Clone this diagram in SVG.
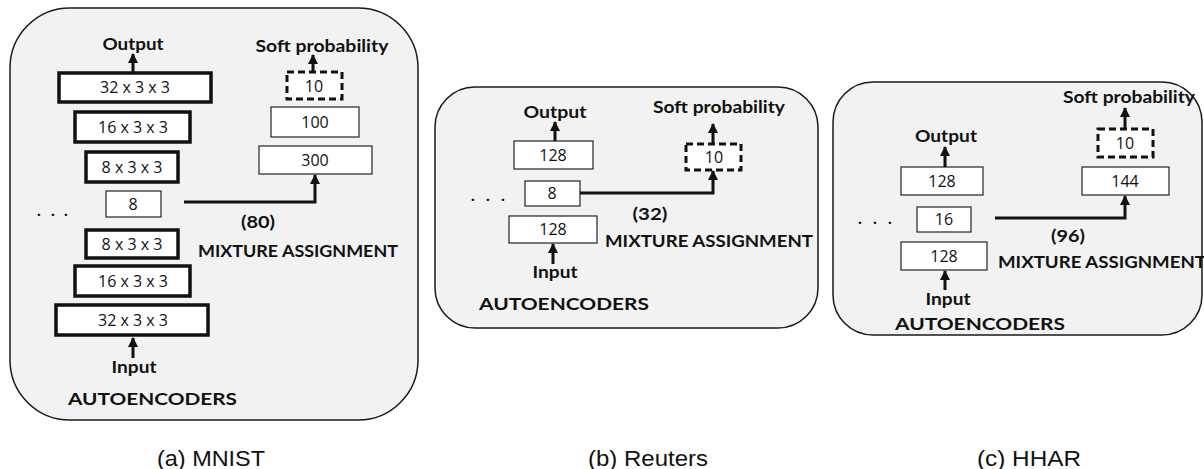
<svg xmlns="http://www.w3.org/2000/svg" width="1204" height="469" viewBox="0 0 1204 469">
<style>
.panel{fill:#f2f2f2;stroke:#1a1a1a;stroke-width:1.5}
.thick{fill:#fff;stroke:#111;stroke-width:3.5}
.thin{fill:#fff;stroke:#333;stroke-width:1.3}
.dash{fill:#fff;stroke:#111;stroke-width:3;stroke-dasharray:7,4}
.bt{font-family:"Open Sans","DejaVu Sans",sans-serif;font-size:16px;fill:#111;text-anchor:middle}
.lb{font-family:Lato,"Open Sans",sans-serif;font-weight:bold;font-size:17.5px;fill:#111}
.c{text-anchor:middle}
.cap{font-family:"Liberation Sans",Arial,sans-serif;font-size:22px;fill:#111;text-anchor:middle}
.ar{fill:none;stroke:#111;stroke-width:3;marker-end:url(#ah)}
.dots{font-family:"Open Sans",sans-serif;font-weight:bold;font-size:15px;fill:#111;text-anchor:middle}
</style>
<defs>
<marker id="ah" markerUnits="userSpaceOnUse" markerWidth="10" markerHeight="10" refX="9" refY="5" orient="auto">
<path d="M0,0 L10,5 L0,10 Z" fill="#111"/>
</marker>
</defs>

<!-- Panel a -->
<g id="panel-a">
<rect class="panel" x="10" y="8" width="408" height="412" rx="60"/>
</g>
<g id="a-out-label"><text class="lb c" x="133" y="50" textLength="61" lengthAdjust="spacingAndGlyphs">Output</text></g>
<g id="a-dec32"><rect class="thick" x="59" y="73" width="152" height="29"/><text class="bt" x="135" y="93">32 x 3 x 3</text></g>
<g id="a-dec16"><rect class="thick" x="75" y="112" width="115" height="30"/><text class="bt" x="133" y="133">16 x 3 x 3</text></g>
<g id="a-dec8"><rect class="thick" x="86" y="152" width="92" height="30"/><text class="bt" x="132" y="173">8 x 3 x 3</text></g>
<g id="a-z"><rect class="thin" x="106" y="191" width="55" height="26"/><text class="bt" x="133" y="210">8</text></g>
<g id="a-dots"><text class="dots" x="39 53 66" y="216">...</text></g>
<g id="a-enc8"><rect class="thick" x="86" y="230" width="92" height="28"/><text class="bt" x="132" y="250">8 x 3 x 3</text></g>
<g id="a-enc16"><rect class="thick" x="75" y="266" width="115" height="30"/><text class="bt" x="133" y="287">16 x 3 x 3</text></g>
<g id="a-enc32"><rect class="thick" x="56" y="305" width="152" height="30"/><text class="bt" x="133" y="326">32 x 3 x 3</text></g>
<g id="a-in-label"><text class="lb c" x="134" y="373" textLength="45" lengthAdjust="spacingAndGlyphs">Input</text></g>
<g id="a-ae-label"><text class="lb" x="68" y="405" textLength="169" lengthAdjust="spacingAndGlyphs">AUTOENCODERS</text></g>
<g id="a-soft-label"><text class="lb c" x="322" y="52" textLength="133" lengthAdjust="spacingAndGlyphs">Soft probability</text></g>
<g id="a-q"><rect class="dash" x="287" y="72" width="55" height="27"/><text class="bt" x="314" y="92">10</text></g>
<g id="a-m100"><rect class="thin" x="271" y="107" width="88" height="30"/><text class="bt" x="315" y="128">100</text></g>
<g id="a-m300"><rect class="thin" x="259" y="146" width="113" height="28"/><text class="bt" x="315" y="166">300</text></g>
<g id="a-80"><text class="lb c" x="258" y="228" textLength="34" lengthAdjust="spacingAndGlyphs">(80)</text></g>
<g id="a-mix"><text class="lb" x="198" y="257" textLength="200" lengthAdjust="spacingAndGlyphs">MIXTURE ASSIGNMENT</text></g>

<!-- Panel b -->
<g id="panel-b">
<rect class="panel" x="435" y="87" width="383" height="241" rx="40"/>
</g>
<g id="b-out-label"><text class="lb c" x="555" y="118" textLength="63" lengthAdjust="spacingAndGlyphs">Output</text></g>
<g id="b-dec"><rect class="thin" x="514" y="141" width="79" height="28"/><text class="bt" x="553" y="161">128</text></g>
<g id="b-z"><rect class="thin" x="525" y="181" width="55" height="25"/><text class="bt" x="552" y="199">8</text></g>
<g id="b-dots"><text class="dots" x="473 488 503" y="201">...</text></g>
<g id="b-enc"><rect class="thin" x="509" y="216" width="88" height="27"/><text class="bt" x="553" y="235">128</text></g>
<g id="b-in-label"><text class="lb c" x="555" y="278" textLength="45" lengthAdjust="spacingAndGlyphs">Input</text></g>
<g id="b-ae-label"><text class="lb" x="479" y="310" textLength="170" lengthAdjust="spacingAndGlyphs">AUTOENCODERS</text></g>
<g id="b-soft-label"><text class="lb c" x="719" y="113" textLength="132" lengthAdjust="spacingAndGlyphs">Soft probability</text></g>
<g id="b-q"><rect class="dash" x="686" y="144" width="55" height="26"/><text class="bt" x="714" y="163">10</text></g>
<g id="b-32"><text class="lb c" x="650" y="220" textLength="35" lengthAdjust="spacingAndGlyphs">(32)</text></g>
<g id="b-mix"><text class="lb" x="605" y="247" textLength="208" lengthAdjust="spacingAndGlyphs">MIXTURE ASSIGNMENT</text></g>

<!-- Panel c -->
<g id="panel-c">
<rect class="panel" x="833" y="82" width="369" height="253" rx="40"/>
</g>
<g id="c-out-label"><text class="lb c" x="946" y="142" textLength="62" lengthAdjust="spacingAndGlyphs">Output</text></g>
<g id="c-dec"><rect class="thin" x="901" y="167" width="82" height="28"/><text class="bt" x="942" y="187">128</text></g>
<g id="c-z"><rect class="thin" x="917" y="207" width="54" height="25"/><text class="bt" x="944" y="225">16</text></g>
<g id="c-dots"><text class="dots" x="860 875 890" y="224">...</text></g>
<g id="c-enc"><rect class="thin" x="901" y="242" width="86" height="28"/><text class="bt" x="944" y="262">128</text></g>
<g id="c-in-label"><text class="lb c" x="948" y="305" textLength="45" lengthAdjust="spacingAndGlyphs">Input</text></g>
<g id="c-ae-label"><text class="lb" x="895" y="330" textLength="170" lengthAdjust="spacingAndGlyphs">AUTOENCODERS</text></g>
<g id="c-soft-label"><text class="lb c" x="1129" y="103" textLength="132" lengthAdjust="spacingAndGlyphs">Soft probability</text></g>
<g id="c-q"><rect class="dash" x="1098" y="129" width="55" height="28"/><text class="bt" x="1125" y="149">10</text></g>
<g id="c-m144"><rect class="thin" x="1082" y="167" width="87" height="28"/><text class="bt" x="1125" y="187">144</text></g>
<g id="c-96"><text class="lb c" x="1068" y="242" textLength="34" lengthAdjust="spacingAndGlyphs">(96)</text></g>
<g id="c-mix"><text class="lb" x="998" y="268" textLength="208" lengthAdjust="spacingAndGlyphs">MIXTURE ASSIGNMENT</text></g>

<!-- Connectors -->
<g id="connectors">
<path class="ar" d="M133,73 V54"/>
<path class="ar" d="M133,358 V338"/>
<path class="ar" d="M313,72 V55"/>
<path class="ar" d="M184,202 H315 V175"/>
<path class="ar" d="M555,141 V122"/>
<path class="ar" d="M553,264 V244"/>
<path class="ar" d="M713,144 V124"/>
<path class="ar" d="M580,193 H713 V171"/>
<path class="ar" d="M945,167 V147"/>
<path class="ar" d="M945,290 V271"/>
<path class="ar" d="M1125,129 V108"/>
<path class="ar" d="M995,218 H1125 V196"/>
</g>

<!-- Captions -->
<g id="captions">
<text class="cap" x="211" y="466" textLength="108" lengthAdjust="spacingAndGlyphs">(a) MNIST</text>
<text class="cap" x="648" y="466" textLength="120" lengthAdjust="spacingAndGlyphs">(b) Reuters</text>
<text class="cap" x="1029" y="466" textLength="104" lengthAdjust="spacingAndGlyphs">(c) HHAR</text>
</g>
</svg>
